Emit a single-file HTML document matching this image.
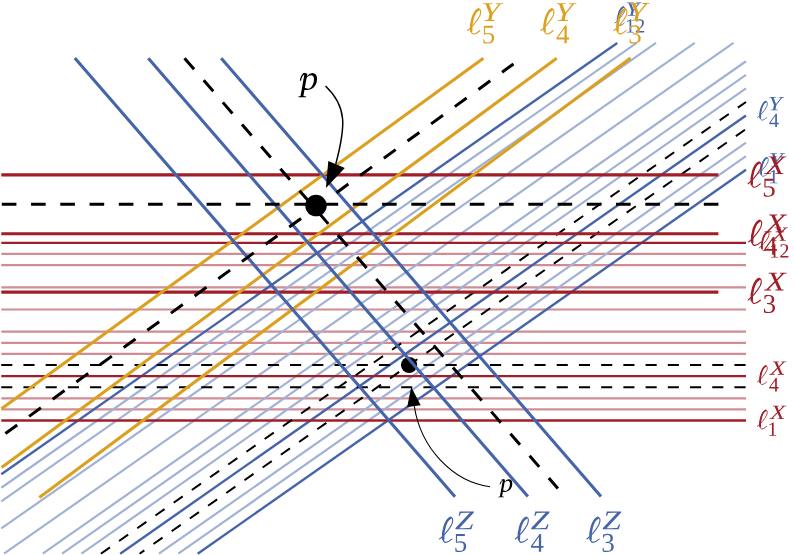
<!DOCTYPE html>
<html><head><meta charset="utf-8"><style>
html,body{margin:0;padding:0;background:#fff;width:795px;height:555px;overflow:hidden}
svg{display:block}
</style></head><body><svg width="795" height="555" viewBox="0 0 795 555"><line x1="1.30" y1="409.44" x2="746.00" y2="409.44" stroke="#d08e94" stroke-width="2.2"/><line x1="1.30" y1="398.34" x2="746.00" y2="398.34" stroke="#d08e94" stroke-width="2.2"/><line x1="1.30" y1="353.92" x2="746.00" y2="353.92" stroke="#d08e94" stroke-width="2.2"/><line x1="1.30" y1="342.81" x2="746.00" y2="342.81" stroke="#d08e94" stroke-width="2.2"/><line x1="1.30" y1="331.71" x2="746.00" y2="331.71" stroke="#d08e94" stroke-width="2.2"/><line x1="1.30" y1="309.50" x2="746.00" y2="309.50" stroke="#d08e94" stroke-width="2.2"/><line x1="1.30" y1="287.29" x2="746.00" y2="287.29" stroke="#d08e94" stroke-width="2.2"/><line x1="1.30" y1="265.08" x2="746.00" y2="265.08" stroke="#d08e94" stroke-width="2.2"/><line x1="1.30" y1="253.97" x2="746.00" y2="253.97" stroke="#d08e94" stroke-width="2.2"/><line x1="1.30" y1="487.77" x2="636.64" y2="42.90" stroke="#a2b2d4" stroke-width="2.2"/><line x1="1.30" y1="501.33" x2="656.01" y2="42.90" stroke="#a2b2d4" stroke-width="2.2"/><line x1="1.30" y1="528.46" x2="694.75" y2="42.90" stroke="#a2b2d4" stroke-width="2.2"/><line x1="3.99" y1="553.70" x2="733.49" y2="42.90" stroke="#a2b2d4" stroke-width="2.2"/><line x1="42.73" y1="553.70" x2="746.00" y2="61.26" stroke="#a2b2d4" stroke-width="2.2"/><line x1="62.10" y1="553.70" x2="746.00" y2="74.83" stroke="#a2b2d4" stroke-width="2.2"/><line x1="81.47" y1="553.70" x2="746.00" y2="88.39" stroke="#a2b2d4" stroke-width="2.2"/><line x1="158.95" y1="553.70" x2="746.00" y2="142.64" stroke="#a2b2d4" stroke-width="2.2"/><line x1="178.32" y1="553.70" x2="746.00" y2="156.20" stroke="#a2b2d4" stroke-width="2.2"/><line x1="1.30" y1="474.21" x2="617.27" y2="42.90" stroke="#4564aa" stroke-width="2.4"/><line x1="120.21" y1="553.70" x2="746.00" y2="115.52" stroke="#4564aa" stroke-width="2.4"/><line x1="197.69" y1="553.70" x2="746.00" y2="169.77" stroke="#4564aa" stroke-width="2.4"/><line x1="1.30" y1="420.55" x2="746.00" y2="420.55" stroke="#a01e28" stroke-width="2.4"/><line x1="1.30" y1="376.13" x2="746.00" y2="376.13" stroke="#a01e28" stroke-width="2.4"/><line x1="1.30" y1="242.87" x2="746.00" y2="242.87" stroke="#a01e28" stroke-width="2.4"/><line x1="1.20" y1="387.24" x2="746.00" y2="387.24" stroke="#000" stroke-width="2.0" stroke-dasharray="11.11 11.11"/><line x1="1.20" y1="365.02" x2="746.00" y2="365.02" stroke="#000" stroke-width="2.0" stroke-dasharray="11.11 11.11"/><line x1="100.84" y1="553.70" x2="746.00" y2="101.95" stroke="#000" stroke-width="2.0" stroke-dasharray="11.11 11.11" stroke-dashoffset="0"/><line x1="139.58" y1="553.70" x2="746.00" y2="129.08" stroke="#000" stroke-width="2.0" stroke-dasharray="11.11 11.11" stroke-dashoffset="5.3"/><circle cx="409.1" cy="365.0" r="8.1" fill="#000"/><line x1="1.30" y1="174.90" x2="718.40" y2="174.90" stroke="#a01e28" stroke-width="3.1"/><line x1="1.30" y1="233.70" x2="718.40" y2="233.70" stroke="#a01e28" stroke-width="3.1"/><line x1="1.30" y1="292.10" x2="718.40" y2="292.10" stroke="#a01e28" stroke-width="3.1"/><line x1="1.50" y1="408.80" x2="483.40" y2="58.30" stroke="#dca020" stroke-width="3.1"/><line x1="1.60" y1="467.40" x2="556.70" y2="58.30" stroke="#dca020" stroke-width="3.1"/><line x1="39.30" y1="497.60" x2="630.60" y2="58.00" stroke="#dca020" stroke-width="3.1"/><line x1="74.80" y1="58.10" x2="455.00" y2="496.75" stroke="#4564aa" stroke-width="3.1"/><line x1="148.30" y1="58.20" x2="527.90" y2="496.55" stroke="#4564aa" stroke-width="3.1"/><line x1="221.20" y1="58.20" x2="601.00" y2="496.55" stroke="#4564aa" stroke-width="3.1"/><line x1="1.80" y1="204.15" x2="718.40" y2="204.15" stroke="#000" stroke-width="3.0" stroke-dasharray="14.625 14.625"/><line x1="184.50" y1="58.20" x2="557.90" y2="488.40" stroke="#000" stroke-width="3.0" stroke-dasharray="14.625 14.625"/><line x1="5.40" y1="433.58" x2="513.50" y2="63.93" stroke="#000" stroke-width="3.0" stroke-dasharray="14.625 14.625"/><circle cx="316.0" cy="205.6" r="10.75" fill="#000"/><path d="M325.5,86.0 C347.7,106.9 345.5,127.2 335.8,164.0" fill="none" stroke="#000" stroke-width="1.45"/><path d="M325.9,188.0 L328.3,160.9 L344.8,168.0 Z" fill="#000"/><path d="M490,486.7 C452.5,481.8 420.5,447.7 414.3,406" fill="none" stroke="#000" stroke-width="1.1"/><path d="M411.2,386.9 L420.7,405.3 L407.2,407.1 Z" fill="#000"/><g transform="translate(614.60,6.30) scale(0.75)" fill="none" stroke="#4564aa" stroke-linecap="round"><path d="M0.6,22.2 C4,20 10,13 12.6,8 C14,5 14.2,1.2 12.2,0.8 C9.5,0.5 7,5.5 5.6,10 C4.4,14 3.8,19 4.2,22.5 C4.5,25 5.5,25.8 6.8,25.7 C8.8,25.6 11,24 12.8,22.4" stroke-width="1.15"/><path d="M11.5,1.2 C9.5,2 7,5.5 5.6,10 C4.4,14 3.8,19 4.2,22.5" stroke-width="2.5"/></g><path transform="translate(625.38,15.74) scale(0.01236,-0.00989)" d="M609 80 818 53 808 0H189L199 53L416 80L494 522L264 1262L117 1288L127 1341H674L664 1288L470 1262L658 635L1051 1262L875 1288L885 1341H1321L1311 1288L1160 1262L688 528Z" fill="#4564aa"/><path transform="translate(625.04,32.55) scale(0.00989,-0.00989)" d="M627 80 901 53V0H180V53L455 80V1174L184 1077V1130L575 1352H627Z" fill="#4564aa"/><path transform="translate(635.17,32.55) scale(0.00989,-0.00989)" d="M911 0H90V147L276 316Q455 473 539.0 570.0Q623 667 659.5 770.0Q696 873 696 1006Q696 1136 637.0 1204.0Q578 1272 444 1272Q391 1272 335.0 1257.5Q279 1243 236 1219L201 1055H135V1313Q317 1356 444 1356Q664 1356 774.5 1264.5Q885 1173 885 1006Q885 894 841.5 794.5Q798 695 708.0 596.5Q618 498 410 321Q321 245 221 154H911Z" fill="#4564aa"/><g transform="translate(467.00,8.30) scale(1.0)" fill="none" stroke="#dca020" stroke-linecap="round"><path d="M0.6,22.2 C4,20 10,13 12.6,8 C14,5 14.2,1.2 12.2,0.8 C9.5,0.5 7,5.5 5.6,10 C4.4,14 3.8,19 4.2,22.5 C4.5,25 5.5,25.8 6.8,25.7 C8.8,25.6 11,24 12.8,22.4" stroke-width="1.15"/><path d="M11.5,1.2 C9.5,2 7,5.5 5.6,10 C4.4,14 3.8,19 4.2,22.5" stroke-width="2.5"/></g><path transform="translate(481.38,20.89) scale(0.01648,-0.01318)" d="M609 80 818 53 808 0H189L199 53L416 80L494 522L264 1262L117 1288L127 1341H674L664 1288L470 1262L658 635L1051 1262L875 1288L885 1341H1321L1311 1288L1160 1262L688 528Z" fill="#dca020"/><path transform="translate(481.73,43.30) scale(0.01318,-0.01318)" d="M485 784Q717 784 830.5 689.0Q944 594 944 399Q944 197 821.0 88.5Q698 -20 469 -20Q279 -20 130 23L119 305H185L230 117Q274 93 335.5 78.0Q397 63 453 63Q611 63 685.5 137.5Q760 212 760 389Q760 513 728.0 576.5Q696 640 626.0 670.0Q556 700 438 700Q347 700 260 676H164V1341H844V1188H254V760Q362 784 485 784Z" fill="#dca020"/><g transform="translate(540.30,8.30) scale(1.0)" fill="none" stroke="#dca020" stroke-linecap="round"><path d="M0.6,22.2 C4,20 10,13 12.6,8 C14,5 14.2,1.2 12.2,0.8 C9.5,0.5 7,5.5 5.6,10 C4.4,14 3.8,19 4.2,22.5 C4.5,25 5.5,25.8 6.8,25.7 C8.8,25.6 11,24 12.8,22.4" stroke-width="1.15"/><path d="M11.5,1.2 C9.5,2 7,5.5 5.6,10 C4.4,14 3.8,19 4.2,22.5" stroke-width="2.5"/></g><path transform="translate(554.68,20.89) scale(0.01648,-0.01318)" d="M609 80 818 53 808 0H189L199 53L416 80L494 522L264 1262L117 1288L127 1341H674L664 1288L470 1262L658 635L1051 1262L875 1288L885 1341H1321L1311 1288L1160 1262L688 528Z" fill="#dca020"/><path transform="translate(556.06,43.30) scale(0.01318,-0.01318)" d="M810 295V0H638V295H40V428L695 1348H810V438H992V295ZM638 1113H633L153 438H638Z" fill="#dca020"/><g transform="translate(613.30,8.20) scale(1.0)" fill="none" stroke="#dca020" stroke-linecap="round"><path d="M0.6,22.2 C4,20 10,13 12.6,8 C14,5 14.2,1.2 12.2,0.8 C9.5,0.5 7,5.5 5.6,10 C4.4,14 3.8,19 4.2,22.5 C4.5,25 5.5,25.8 6.8,25.7 C8.8,25.6 11,24 12.8,22.4" stroke-width="1.15"/><path d="M11.5,1.2 C9.5,2 7,5.5 5.6,10 C4.4,14 3.8,19 4.2,22.5" stroke-width="2.5"/></g><path transform="translate(627.68,20.79) scale(0.01648,-0.01318)" d="M609 80 818 53 808 0H189L199 53L416 80L494 522L264 1262L117 1288L127 1341H674L664 1288L470 1262L658 635L1051 1262L875 1288L885 1341H1321L1311 1288L1160 1262L688 528Z" fill="#dca020"/><path transform="translate(628.30,43.20) scale(0.01318,-0.01318)" d="M944 365Q944 184 820.0 82.0Q696 -20 469 -20Q279 -20 109 23L98 305H164L209 117Q248 95 319.5 79.0Q391 63 453 63Q610 63 685.0 135.0Q760 207 760 375Q760 507 691.0 575.5Q622 644 477 651L334 659V741L477 750Q590 756 644.0 820.0Q698 884 698 1014Q698 1149 639.5 1210.5Q581 1272 453 1272Q400 1272 342.0 1257.5Q284 1243 240 1219L205 1055H139V1313Q238 1339 310.0 1347.5Q382 1356 453 1356Q883 1356 883 1026Q883 887 806.5 804.5Q730 722 590 702Q772 681 858.0 597.5Q944 514 944 365Z" fill="#dca020"/><g transform="translate(757.10,100.80) scale(0.75)" fill="none" stroke="#4564aa" stroke-linecap="round"><path d="M0.6,22.2 C4,20 10,13 12.6,8 C14,5 14.2,1.2 12.2,0.8 C9.5,0.5 7,5.5 5.6,10 C4.4,14 3.8,19 4.2,22.5 C4.5,25 5.5,25.8 6.8,25.7 C8.8,25.6 11,24 12.8,22.4" stroke-width="1.15"/><path d="M11.5,1.2 C9.5,2 7,5.5 5.6,10 C4.4,14 3.8,19 4.2,22.5" stroke-width="2.5"/></g><path transform="translate(767.88,110.24) scale(0.01236,-0.00989)" d="M609 80 818 53 808 0H189L199 53L416 80L494 522L264 1262L117 1288L127 1341H674L664 1288L470 1262L658 635L1051 1262L875 1288L885 1341H1321L1311 1288L1160 1262L688 528Z" fill="#4564aa"/><path transform="translate(768.92,127.05) scale(0.00989,-0.00989)" d="M810 295V0H638V295H40V428L695 1348H810V438H992V295ZM638 1113H633L153 438H638Z" fill="#4564aa"/><g transform="translate(758.00,157.00) scale(0.75)" fill="none" stroke="#4564aa" stroke-linecap="round"><path d="M0.6,22.2 C4,20 10,13 12.6,8 C14,5 14.2,1.2 12.2,0.8 C9.5,0.5 7,5.5 5.6,10 C4.4,14 3.8,19 4.2,22.5 C4.5,25 5.5,25.8 6.8,25.7 C8.8,25.6 11,24 12.8,22.4" stroke-width="1.15"/><path d="M11.5,1.2 C9.5,2 7,5.5 5.6,10 C4.4,14 3.8,19 4.2,22.5" stroke-width="2.5"/></g><path transform="translate(768.78,166.44) scale(0.01236,-0.00989)" d="M609 80 818 53 808 0H189L199 53L416 80L494 522L264 1262L117 1288L127 1341H674L664 1288L470 1262L658 635L1051 1262L875 1288L885 1341H1321L1311 1288L1160 1262L688 528Z" fill="#4564aa"/><path transform="translate(768.44,183.25) scale(0.00989,-0.00989)" d="M627 80 901 53V0H180V53L455 80V1174L184 1077V1130L575 1352H627Z" fill="#4564aa"/><g transform="translate(747.50,161.50) scale(1.0)" fill="none" stroke="#a01e28" stroke-linecap="round"><path d="M0.6,22.2 C4,20 10,13 12.6,8 C14,5 14.2,1.2 12.2,0.8 C9.5,0.5 7,5.5 5.6,10 C4.4,14 3.8,19 4.2,22.5 C4.5,25 5.5,25.8 6.8,25.7 C8.8,25.6 11,24 12.8,22.4" stroke-width="1.15"/><path d="M11.5,1.2 C9.5,2 7,5.5 5.6,10 C4.4,14 3.8,19 4.2,22.5" stroke-width="2.5"/></g><path transform="translate(764.91,174.09) scale(0.01648,-0.01318)" d="M751 753 990 80 1138 53 1128 0H615L625 53L789 80L614 587L217 80L379 53L369 0H-68L-58 53L93 80L573 686L369 1262L222 1288L232 1341H725L715 1288L571 1262L711 853L1030 1262L898 1288L908 1341H1317L1307 1288L1155 1262Z" fill="#a01e28"/><path transform="translate(762.23,196.50) scale(0.01318,-0.01318)" d="M485 784Q717 784 830.5 689.0Q944 594 944 399Q944 197 821.0 88.5Q698 -20 469 -20Q279 -20 130 23L119 305H185L230 117Q274 93 335.5 78.0Q397 63 453 63Q611 63 685.5 137.5Q760 212 760 389Q760 513 728.0 576.5Q696 640 626.0 670.0Q556 700 438 700Q347 700 260 676H164V1341H844V1188H254V760Q362 784 485 784Z" fill="#a01e28"/><g transform="translate(758.80,231.30) scale(0.75)" fill="none" stroke="#a01e28" stroke-linecap="round"><path d="M0.6,22.2 C4,20 10,13 12.6,8 C14,5 14.2,1.2 12.2,0.8 C9.5,0.5 7,5.5 5.6,10 C4.4,14 3.8,19 4.2,22.5 C4.5,25 5.5,25.8 6.8,25.7 C8.8,25.6 11,24 12.8,22.4" stroke-width="1.15"/><path d="M11.5,1.2 C9.5,2 7,5.5 5.6,10 C4.4,14 3.8,19 4.2,22.5" stroke-width="2.5"/></g><path transform="translate(771.86,240.74) scale(0.01236,-0.00989)" d="M751 753 990 80 1138 53 1128 0H615L625 53L789 80L614 587L217 80L379 53L369 0H-68L-58 53L93 80L573 686L369 1262L222 1288L232 1341H725L715 1288L571 1262L711 853L1030 1262L898 1288L908 1341H1317L1307 1288L1155 1262Z" fill="#a01e28"/><path transform="translate(769.24,257.55) scale(0.00989,-0.00989)" d="M627 80 901 53V0H180V53L455 80V1174L184 1077V1130L575 1352H627Z" fill="#a01e28"/><path transform="translate(779.37,257.55) scale(0.00989,-0.00989)" d="M911 0H90V147L276 316Q455 473 539.0 570.0Q623 667 659.5 770.0Q696 873 696 1006Q696 1136 637.0 1204.0Q578 1272 444 1272Q391 1272 335.0 1257.5Q279 1243 236 1219L201 1055H135V1313Q317 1356 444 1356Q664 1356 774.5 1264.5Q885 1173 885 1006Q885 894 841.5 794.5Q798 695 708.0 596.5Q618 498 410 321Q321 245 221 154H911Z" fill="#a01e28"/><g transform="translate(748.00,219.70) scale(1.0)" fill="none" stroke="#a01e28" stroke-linecap="round"><path d="M0.6,22.2 C4,20 10,13 12.6,8 C14,5 14.2,1.2 12.2,0.8 C9.5,0.5 7,5.5 5.6,10 C4.4,14 3.8,19 4.2,22.5 C4.5,25 5.5,25.8 6.8,25.7 C8.8,25.6 11,24 12.8,22.4" stroke-width="1.15"/><path d="M11.5,1.2 C9.5,2 7,5.5 5.6,10 C4.4,14 3.8,19 4.2,22.5" stroke-width="2.5"/></g><path transform="translate(765.41,232.28) scale(0.01648,-0.01318)" d="M751 753 990 80 1138 53 1128 0H615L625 53L789 80L614 587L217 80L379 53L369 0H-68L-58 53L93 80L573 686L369 1262L222 1288L232 1341H725L715 1288L571 1262L711 853L1030 1262L898 1288L908 1341H1317L1307 1288L1155 1262Z" fill="#a01e28"/><path transform="translate(763.76,254.70) scale(0.01318,-0.01318)" d="M810 295V0H638V295H40V428L695 1348H810V438H992V295ZM638 1113H633L153 438H638Z" fill="#a01e28"/><g transform="translate(747.60,277.80) scale(1.0)" fill="none" stroke="#a01e28" stroke-linecap="round"><path d="M0.6,22.2 C4,20 10,13 12.6,8 C14,5 14.2,1.2 12.2,0.8 C9.5,0.5 7,5.5 5.6,10 C4.4,14 3.8,19 4.2,22.5 C4.5,25 5.5,25.8 6.8,25.7 C8.8,25.6 11,24 12.8,22.4" stroke-width="1.15"/><path d="M11.5,1.2 C9.5,2 7,5.5 5.6,10 C4.4,14 3.8,19 4.2,22.5" stroke-width="2.5"/></g><path transform="translate(765.01,290.38) scale(0.01648,-0.01318)" d="M751 753 990 80 1138 53 1128 0H615L625 53L789 80L614 587L217 80L379 53L369 0H-68L-58 53L93 80L573 686L369 1262L222 1288L232 1341H725L715 1288L571 1262L711 853L1030 1262L898 1288L908 1341H1317L1307 1288L1155 1262Z" fill="#a01e28"/><path transform="translate(762.60,312.80) scale(0.01318,-0.01318)" d="M944 365Q944 184 820.0 82.0Q696 -20 469 -20Q279 -20 109 23L98 305H164L209 117Q248 95 319.5 79.0Q391 63 453 63Q610 63 685.0 135.0Q760 207 760 375Q760 507 691.0 575.5Q622 644 477 651L334 659V741L477 750Q590 756 644.0 820.0Q698 884 698 1014Q698 1149 639.5 1210.5Q581 1272 453 1272Q400 1272 342.0 1257.5Q284 1243 240 1219L205 1055H139V1313Q238 1339 310.0 1347.5Q382 1356 453 1356Q883 1356 883 1026Q883 887 806.5 804.5Q730 722 590 702Q772 681 858.0 597.5Q944 514 944 365Z" fill="#a01e28"/><g transform="translate(757.00,365.20) scale(0.75)" fill="none" stroke="#a01e28" stroke-linecap="round"><path d="M0.6,22.2 C4,20 10,13 12.6,8 C14,5 14.2,1.2 12.2,0.8 C9.5,0.5 7,5.5 5.6,10 C4.4,14 3.8,19 4.2,22.5 C4.5,25 5.5,25.8 6.8,25.7 C8.8,25.6 11,24 12.8,22.4" stroke-width="1.15"/><path d="M11.5,1.2 C9.5,2 7,5.5 5.6,10 C4.4,14 3.8,19 4.2,22.5" stroke-width="2.5"/></g><path transform="translate(770.06,374.64) scale(0.01236,-0.00989)" d="M751 753 990 80 1138 53 1128 0H615L625 53L789 80L614 587L217 80L379 53L369 0H-68L-58 53L93 80L573 686L369 1262L222 1288L232 1341H725L715 1288L571 1262L711 853L1030 1262L898 1288L908 1341H1317L1307 1288L1155 1262Z" fill="#a01e28"/><path transform="translate(768.82,391.45) scale(0.00989,-0.00989)" d="M810 295V0H638V295H40V428L695 1348H810V438H992V295ZM638 1113H633L153 438H638Z" fill="#a01e28"/><g transform="translate(757.00,409.60) scale(0.75)" fill="none" stroke="#a01e28" stroke-linecap="round"><path d="M0.6,22.2 C4,20 10,13 12.6,8 C14,5 14.2,1.2 12.2,0.8 C9.5,0.5 7,5.5 5.6,10 C4.4,14 3.8,19 4.2,22.5 C4.5,25 5.5,25.8 6.8,25.7 C8.8,25.6 11,24 12.8,22.4" stroke-width="1.15"/><path d="M11.5,1.2 C9.5,2 7,5.5 5.6,10 C4.4,14 3.8,19 4.2,22.5" stroke-width="2.5"/></g><path transform="translate(770.06,419.04) scale(0.01236,-0.00989)" d="M751 753 990 80 1138 53 1128 0H615L625 53L789 80L614 587L217 80L379 53L369 0H-68L-58 53L93 80L573 686L369 1262L222 1288L232 1341H725L715 1288L571 1262L711 853L1030 1262L898 1288L908 1341H1317L1307 1288L1155 1262Z" fill="#a01e28"/><path transform="translate(767.44,435.85) scale(0.00989,-0.00989)" d="M627 80 901 53V0H180V53L455 80V1174L184 1077V1130L575 1352H627Z" fill="#a01e28"/><g transform="translate(439.00,516.70) scale(1.0)" fill="none" stroke="#4564aa" stroke-linecap="round"><path d="M0.6,22.2 C4,20 10,13 12.6,8 C14,5 14.2,1.2 12.2,0.8 C9.5,0.5 7,5.5 5.6,10 C4.4,14 3.8,19 4.2,22.5 C4.5,25 5.5,25.8 6.8,25.7 C8.8,25.6 11,24 12.8,22.4" stroke-width="1.15"/><path d="M11.5,1.2 C9.5,2 7,5.5 5.6,10 C4.4,14 3.8,19 4.2,22.5" stroke-width="2.5"/></g><path transform="translate(454.90,529.29) scale(0.01648,-0.01318)" d="M907 1255H707Q459 1255 364 1235L296 1024H227L283 1341H1156L1140 1255L267 84H507Q626 84 749.5 95.5Q873 107 917 117L1021 373H1091L998 0H25L42 94Z" fill="#4564aa"/><path transform="translate(453.73,551.70) scale(0.01318,-0.01318)" d="M485 784Q717 784 830.5 689.0Q944 594 944 399Q944 197 821.0 88.5Q698 -20 469 -20Q279 -20 130 23L119 305H185L230 117Q274 93 335.5 78.0Q397 63 453 63Q611 63 685.5 137.5Q760 212 760 389Q760 513 728.0 576.5Q696 640 626.0 670.0Q556 700 438 700Q347 700 260 676H164V1341H844V1188H254V760Q362 784 485 784Z" fill="#4564aa"/><g transform="translate(514.70,516.70) scale(1.0)" fill="none" stroke="#4564aa" stroke-linecap="round"><path d="M0.6,22.2 C4,20 10,13 12.6,8 C14,5 14.2,1.2 12.2,0.8 C9.5,0.5 7,5.5 5.6,10 C4.4,14 3.8,19 4.2,22.5 C4.5,25 5.5,25.8 6.8,25.7 C8.8,25.6 11,24 12.8,22.4" stroke-width="1.15"/><path d="M11.5,1.2 C9.5,2 7,5.5 5.6,10 C4.4,14 3.8,19 4.2,22.5" stroke-width="2.5"/></g><path transform="translate(530.60,529.29) scale(0.01648,-0.01318)" d="M907 1255H707Q459 1255 364 1235L296 1024H227L283 1341H1156L1140 1255L267 84H507Q626 84 749.5 95.5Q873 107 917 117L1021 373H1091L998 0H25L42 94Z" fill="#4564aa"/><path transform="translate(530.46,551.70) scale(0.01318,-0.01318)" d="M810 295V0H638V295H40V428L695 1348H810V438H992V295ZM638 1113H633L153 438H638Z" fill="#4564aa"/><g transform="translate(586.30,516.70) scale(1.0)" fill="none" stroke="#4564aa" stroke-linecap="round"><path d="M0.6,22.2 C4,20 10,13 12.6,8 C14,5 14.2,1.2 12.2,0.8 C9.5,0.5 7,5.5 5.6,10 C4.4,14 3.8,19 4.2,22.5 C4.5,25 5.5,25.8 6.8,25.7 C8.8,25.6 11,24 12.8,22.4" stroke-width="1.15"/><path d="M11.5,1.2 C9.5,2 7,5.5 5.6,10 C4.4,14 3.8,19 4.2,22.5" stroke-width="2.5"/></g><path transform="translate(602.19,529.29) scale(0.01648,-0.01318)" d="M907 1255H707Q459 1255 364 1235L296 1024H227L283 1341H1156L1140 1255L267 84H507Q626 84 749.5 95.5Q873 107 917 117L1021 373H1091L998 0H25L42 94Z" fill="#4564aa"/><path transform="translate(601.30,551.70) scale(0.01318,-0.01318)" d="M944 365Q944 184 820.0 82.0Q696 -20 469 -20Q279 -20 109 23L98 305H164L209 117Q248 95 319.5 79.0Q391 63 453 63Q610 63 685.0 135.0Q760 207 760 375Q760 507 691.0 575.5Q622 644 477 651L334 659V741L477 750Q590 756 644.0 820.0Q698 884 698 1014Q698 1149 639.5 1210.5Q581 1272 453 1272Q400 1272 342.0 1257.5Q284 1243 240 1219L205 1055H139V1313Q238 1339 310.0 1347.5Q382 1356 453 1356Q883 1356 883 1026Q883 887 806.5 804.5Q730 722 590 702Q772 681 858.0 597.5Q944 514 944 365Z" fill="#4564aa"/><path transform="translate(300.40,89.70) scale(0.01733,-0.01733)" d="M233 2 222 -88 174 -365 334 -389 326 -436H-120L-112 -389L9 -365L228 870L125 895L133 940H398L379 788Q554 965 694 965Q815 965 888.5 876.0Q962 787 962 631Q962 455 887.0 303.5Q812 152 683.0 66.0Q554 -20 403 -20Q357 -20 307.5 -13.5Q258 -7 233 2ZM257 107Q319 59 425 59Q524 59 604.5 132.0Q685 205 734.0 336.5Q783 468 783 605Q783 716 738.5 778.0Q694 840 619 840Q566 840 494.0 801.0Q422 762 366 701Z" fill="#000"/><path d="M300.5,80.2 C301.1,77 302.6,74 305.2,73.4" fill="none" stroke="#000" stroke-width="1.3" stroke-linecap="round"/><path transform="translate(499.80,491.70) scale(0.01299,-0.01299)" d="M233 2 222 -88 174 -365 334 -389 326 -436H-120L-112 -389L9 -365L228 870L125 895L133 940H398L379 788Q554 965 694 965Q815 965 888.5 876.0Q962 787 962 631Q962 455 887.0 303.5Q812 152 683.0 66.0Q554 -20 403 -20Q357 -20 307.5 -13.5Q258 -7 233 2ZM257 107Q319 59 425 59Q524 59 604.5 132.0Q685 205 734.0 336.5Q783 468 783 605Q783 716 738.5 778.0Q694 840 619 840Q566 840 494.0 801.0Q422 762 366 701Z" fill="#000"/><path d="M500.2,483.9 C500.6,481.9 501.6,480.1 503.7,479.6" fill="none" stroke="#000" stroke-width="1.0" stroke-linecap="round"/></svg></body></html>
